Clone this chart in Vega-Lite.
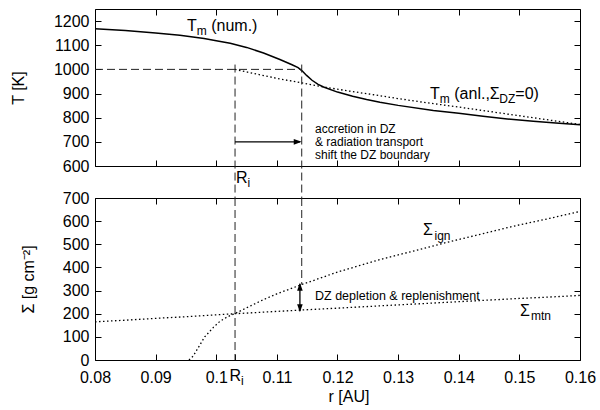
{
  "$schema": "https://vega.github.io/schema/vega-lite/v6.json",
  "background": "white",
  "padding": {"left": 10, "top": 8, "right": 5, "bottom": 5},
  "bounds": "flush",
  "spacing": 32,
  "config": {
    "font": "Liberation Sans",
    "view": {"stroke": "black", "strokeWidth": 1},
    "axis": {"grid": false, "domain": false, "tickColor": "black", "tickSize": -6, "tickWidth": 1, "labelColor": "black", "labelFontSize": 16, "labelFont": "Liberation Sans", "titleFont": "Liberation Sans", "titleFontSize": 16, "titleFontWeight": "normal", "titleColor": "black", "labelFlush": false, "labelOverlap": false, "labelBound": false},
    "text": {"font": "Liberation Sans", "color": "black"}
  },
  "vconcat": [
    {
      "width": 485,
      "height": 157,
      "resolve": {"axis": {"x": "independent", "y": "independent"}},
      "layer": [
        {
          "data": {"values": [
            {"r": 0.08, "T": 1168}, {"r": 0.085, "T": 1161}, {"r": 0.09, "T": 1151}, {"r": 0.094, "T": 1141},
            {"r": 0.098, "T": 1128}, {"r": 0.1, "T": 1119}, {"r": 0.1023, "T": 1108}, {"r": 0.105, "T": 1091},
            {"r": 0.1078, "T": 1068}, {"r": 0.1105, "T": 1041}, {"r": 0.1125, "T": 1019}, {"r": 0.1135, "T": 1007},
            {"r": 0.1142, "T": 993}, {"r": 0.1149, "T": 975}, {"r": 0.1158, "T": 955}, {"r": 0.1168, "T": 938},
            {"r": 0.1177, "T": 927}, {"r": 0.12, "T": 906}, {"r": 0.1225, "T": 889}, {"r": 0.1248, "T": 875},
            {"r": 0.127, "T": 864}, {"r": 0.13, "T": 851}, {"r": 0.1358, "T": 830}, {"r": 0.14, "T": 818},
            {"r": 0.144, "T": 806}, {"r": 0.148, "T": 795}, {"r": 0.1523, "T": 785}, {"r": 0.156, "T": 778},
            {"r": 0.16, "T": 771}
          ]},
          "mark": {"type": "line", "color": "black", "strokeWidth": 1.5},
          "encoding": {
            "x": {"field": "r", "type": "quantitative", "scale": {"domain": [0.08, 0.16], "nice": false, "zero": false},
                  "axis": {"orient": "bottom", "values": [0.08, 0.09, 0.1, 0.11, 0.12, 0.13, 0.14, 0.15, 0.16], "labels": false, "title": null}},
            "y": {"field": "T", "type": "quantitative", "scale": {"domain": [600, 1250], "nice": false, "zero": false},
                  "axis": {"orient": "left", "values": [600, 700, 800, 900, 1000, 1100, 1200], "format": "d", "labelPadding": 12, "title": "T [K]", "titleX": -76.5, "titleY": 78.5, "titleAngle": -90, "titleBaseline": "middle", "titleAlign": "center"}}
          }
        },
        {
          "data": {"values": [
            {"r": 0.1031, "T": 1000}, {"r": 0.106, "T": 984}, {"r": 0.11, "T": 963}, {"r": 0.1141, "T": 944},
            {"r": 0.118, "T": 926}, {"r": 0.122, "T": 910}, {"r": 0.126, "T": 895}, {"r": 0.13, "T": 879},
            {"r": 0.135, "T": 861}, {"r": 0.14, "T": 844}, {"r": 0.145, "T": 826}, {"r": 0.15, "T": 808},
            {"r": 0.155, "T": 790}, {"r": 0.16, "T": 772}
          ]},
          "mark": {"type": "line", "color": "black", "strokeWidth": 1.3, "strokeDash": [1.5, 2.5]},
          "encoding": {
            "x": {"field": "r", "type": "quantitative", "axis": null},
            "y": {"field": "T", "type": "quantitative", "axis": null}
          }
        },
        {
          "data": {"values": [
            {"r": 0.08, "r2": 0.1141, "T": 1000, "T2": 1000},
            {"r": 0.1031, "r2": 0.1031, "T": 1020, "T2": 466},
            {"r": 0.1141, "r2": 0.1141, "T": 1020, "T2": 466}
          ]},
          "mark": {"type": "rule", "color": "#222", "strokeWidth": 1, "strokeDash": [8, 4]},
          "encoding": {
            "x": {"field": "r", "type": "quantitative", "axis": null},
            "x2": {"field": "r2"},
            "y": {"field": "T", "type": "quantitative", "axis": null},
            "y2": {"field": "T2"}
          }
        },
        {
          "data": {"values": [{"r": 0.1031, "r2": 0.1138, "T": 700, "T2": 700}]},
          "mark": {"type": "rule", "color": "black", "strokeWidth": 1.3},
          "encoding": {
            "x": {"field": "r", "type": "quantitative", "axis": null},
            "x2": {"field": "r2"},
            "y": {"field": "T", "type": "quantitative", "axis": null},
            "y2": {"field": "T2"}
          }
        },
        {
          "data": {"values": [{"r": 0.1141, "T": 700}]},
          "mark": {"type": "point", "filled": true, "color": "black", "opacity": 1, "size": 16, "shape": "M0,0L-4,-1.4L-4,1.4Z"},
          "encoding": {
            "x": {"field": "r", "type": "quantitative", "axis": null},
            "y": {"field": "T", "type": "quantitative", "axis": null}
          }
        },
        {
          "data": {"values": [
            {"r": 0.09518, "T": 1178, "label": "T"},
            {"r": 0.09917, "T": 1178, "label": "(num.)"},
            {"r": 0.13526, "T": 897, "label": "T"},
            {"r": 0.13926, "T": 897, "label": "(anl.,Σ"},
            {"r": 0.14933, "T": 897, "label": "=0)"},
            {"r": 0.10326, "T": 549, "label": "R"}
          ]},
          "mark": {"type": "text", "fontSize": 16, "align": "left", "baseline": "middle"},
          "encoding": {
            "x": {"field": "r", "type": "quantitative", "axis": null},
            "y": {"field": "T", "type": "quantitative", "axis": null},
            "text": {"field": "label"}
          }
        },
        {
          "data": {"values": [
            {"r": 0.09679, "T": 1157, "label": "m"},
            {"r": 0.13688, "T": 876, "label": "m"},
            {"r": 0.14668, "T": 876, "label": "DZ"},
            {"r": 0.10517, "T": 529, "label": "i"}
          ]},
          "mark": {"type": "text", "fontSize": 12, "align": "left", "baseline": "middle"},
          "encoding": {
            "x": {"field": "r", "type": "quantitative", "axis": null},
            "y": {"field": "T", "type": "quantitative", "axis": null},
            "text": {"field": "label"}
          }
        },
        {
          "data": {"values": [
            {"r": 0.11629, "T": 752, "label": "accretion in DZ"},
            {"r": 0.11629, "T": 699, "label": "& radiation transport"},
            {"r": 0.11629, "T": 646, "label": "shift the DZ boundary"}
          ]},
          "mark": {"type": "text", "fontSize": 12, "align": "left", "baseline": "middle"},
          "encoding": {
            "x": {"field": "r", "type": "quantitative", "axis": null},
            "y": {"field": "T", "type": "quantitative", "axis": null},
            "text": {"field": "label"}
          }
        },
        {
          "data": {"values": [{"r": 0.12, "T": 900}]},
          "mark": {"type": "point", "opacity": 0},
          "encoding": {
            "x": {"field": "r", "type": "quantitative", "axis": {"orient": "top", "values": [0.08, 0.09, 0.1, 0.11, 0.12, 0.13, 0.14, 0.15, 0.16], "labels": false, "title": null}},
            "y": {"field": "T", "type": "quantitative", "axis": {"orient": "right", "values": [600, 700, 800, 900, 1000, 1100, 1200], "labels": false, "title": null}}
          }
        }
      ]
    },
    {
      "width": 485,
      "height": 162,
      "resolve": {"axis": {"x": "independent", "y": "independent"}},
      "layer": [
        {
          "data": {"values": [
            {"r": 0.0955, "S": 0}, {"r": 0.0962, "S": 17}, {"r": 0.097, "S": 52}, {"r": 0.0981, "S": 100},
            {"r": 0.0995, "S": 140}, {"r": 0.1006, "S": 167}, {"r": 0.1018, "S": 186}, {"r": 0.1031, "S": 201},
            {"r": 0.106, "S": 238}, {"r": 0.1078, "S": 261}, {"r": 0.11, "S": 286}, {"r": 0.1141, "S": 326},
            {"r": 0.12, "S": 380}, {"r": 0.127, "S": 434}, {"r": 0.133, "S": 474}, {"r": 0.138, "S": 508},
            {"r": 0.144, "S": 546}, {"r": 0.149, "S": 578}, {"r": 0.155, "S": 612}, {"r": 0.16, "S": 642}
          ]},
          "mark": {"type": "line", "color": "black", "strokeWidth": 1.3, "strokeDash": [1.5, 2.5]},
          "encoding": {
            "x": {"field": "r", "type": "quantitative", "scale": {"domain": [0.08, 0.16], "nice": false, "zero": false},
                  "axis": {"orient": "bottom", "values": [0.08, 0.09, 0.1, 0.1031, 0.11, 0.12, 0.13, 0.14, 0.15, 0.16], "labelExpr": "abs(datum.value - 0.1031) < 0.0001 ? '' : format(datum.value, '.2~f')", "labelPadding": 15, "title": "r [AU]", "titleX": 253.5, "titleY": 36, "titleBaseline": "middle", "titleAlign": "center"}},
            "y": {"field": "S", "type": "quantitative", "scale": {"domain": [0, 700], "nice": false, "zero": false},
                  "axis": {"orient": "left", "values": [0, 100, 200, 300, 400, 500, 600, 700], "format": "d", "labelPadding": 12, "title": "Σ [g cm⁻²]", "titleX": -67, "titleY": 81, "titleAngle": -90, "titleBaseline": "middle", "titleAlign": "center"}}
          }
        },
        {
          "data": {"values": [
            {"r": 0.08, "S": 165}, {"r": 0.085, "S": 172}, {"r": 0.09, "S": 180}, {"r": 0.095, "S": 187},
            {"r": 0.1, "S": 195}, {"r": 0.1031, "S": 200}, {"r": 0.11, "S": 210}, {"r": 0.1141, "S": 216},
            {"r": 0.12, "S": 224}, {"r": 0.127, "S": 234}, {"r": 0.135, "S": 245}, {"r": 0.14, "S": 252},
            {"r": 0.145, "S": 259}, {"r": 0.15, "S": 266}, {"r": 0.155, "S": 272}, {"r": 0.16, "S": 279}
          ]},
          "mark": {"type": "line", "color": "black", "strokeWidth": 1.3, "strokeDash": [1.5, 2.5]},
          "encoding": {
            "x": {"field": "r", "type": "quantitative", "axis": null},
            "y": {"field": "S", "type": "quantitative", "axis": null}
          }
        },
        {
          "data": {"values": [
            {"r": 0.1031, "S": 700, "S2": 0},
            {"r": 0.1141, "S": 700, "S2": 326}
          ]},
          "mark": {"type": "rule", "color": "#222", "strokeWidth": 1, "strokeDash": [8, 4]},
          "encoding": {
            "x": {"field": "r", "type": "quantitative", "axis": null},
            "y": {"field": "S", "type": "quantitative", "axis": null},
            "y2": {"field": "S2"}
          }
        },
        {
          "data": {"values": [{"r": 0.1138, "S": 212, "S2": 328}]},
          "mark": {"type": "rule", "color": "black", "strokeWidth": 1.3},
          "encoding": {
            "x": {"field": "r", "type": "quantitative", "axis": null},
            "y": {"field": "S", "type": "quantitative", "axis": null},
            "y2": {"field": "S2"}
          }
        },
        {
          "data": {"values": [{"r": 0.1138, "S": 334}]},
          "mark": {"type": "point", "filled": true, "color": "black", "opacity": 1, "size": 16, "shape": "M0,0L-1.4,4L1.4,4Z"},
          "encoding": {
            "x": {"field": "r", "type": "quantitative", "axis": null},
            "y": {"field": "S", "type": "quantitative", "axis": null}
          }
        },
        {
          "data": {"values": [{"r": 0.1138, "S": 206}]},
          "mark": {"type": "point", "filled": true, "color": "black", "opacity": 1, "size": 16, "shape": "M0,0L-1.4,-4L1.4,-4Z"},
          "encoding": {
            "x": {"field": "r", "type": "quantitative", "axis": null},
            "y": {"field": "S", "type": "quantitative", "axis": null}
          }
        },
        {
          "data": {"values": [
            {"r": 0.1341, "S": 563, "label": "Σ"},
            {"r": 0.1501, "S": 211, "label": "Σ"},
            {"r": 0.1022, "S": -69, "label": "R"}
          ]},
          "mark": {"type": "text", "fontSize": 16, "align": "left", "baseline": "middle"},
          "encoding": {
            "x": {"field": "r", "type": "quantitative", "axis": null},
            "y": {"field": "S", "type": "quantitative", "axis": null},
            "text": {"field": "label"}
          }
        },
        {
          "data": {"values": [
            {"r": 0.1360, "S": 535, "label": "ign"},
            {"r": 0.15192, "S": 188, "label": "mtn"},
            {"r": 0.1041, "S": -92, "label": "i"}
          ]},
          "mark": {"type": "text", "fontSize": 12, "align": "left", "baseline": "middle"},
          "encoding": {
            "x": {"field": "r", "type": "quantitative", "axis": null},
            "y": {"field": "S", "type": "quantitative", "axis": null},
            "text": {"field": "label"}
          }
        },
        {
          "data": {"values": [{"r": 0.11629, "S": 276, "label": "DZ depletion & replenishment"}]},
          "mark": {"type": "text", "fontSize": 12.5, "align": "left", "baseline": "middle"},
          "encoding": {
            "x": {"field": "r", "type": "quantitative", "axis": null},
            "y": {"field": "S", "type": "quantitative", "axis": null},
            "text": {"field": "label"}
          }
        },
        {
          "data": {"values": [{"r": 0.12, "S": 300}]},
          "mark": {"type": "point", "opacity": 0},
          "encoding": {
            "x": {"field": "r", "type": "quantitative", "axis": {"orient": "top", "values": [0.08, 0.09, 0.1, 0.11, 0.12, 0.13, 0.14, 0.15, 0.16], "labels": false, "title": null}},
            "y": {"field": "S", "type": "quantitative", "axis": {"orient": "right", "values": [0, 100, 200, 300, 400, 500, 600, 700], "labels": false, "title": null}}
          }
        }
      ]
    }
  ]
}
